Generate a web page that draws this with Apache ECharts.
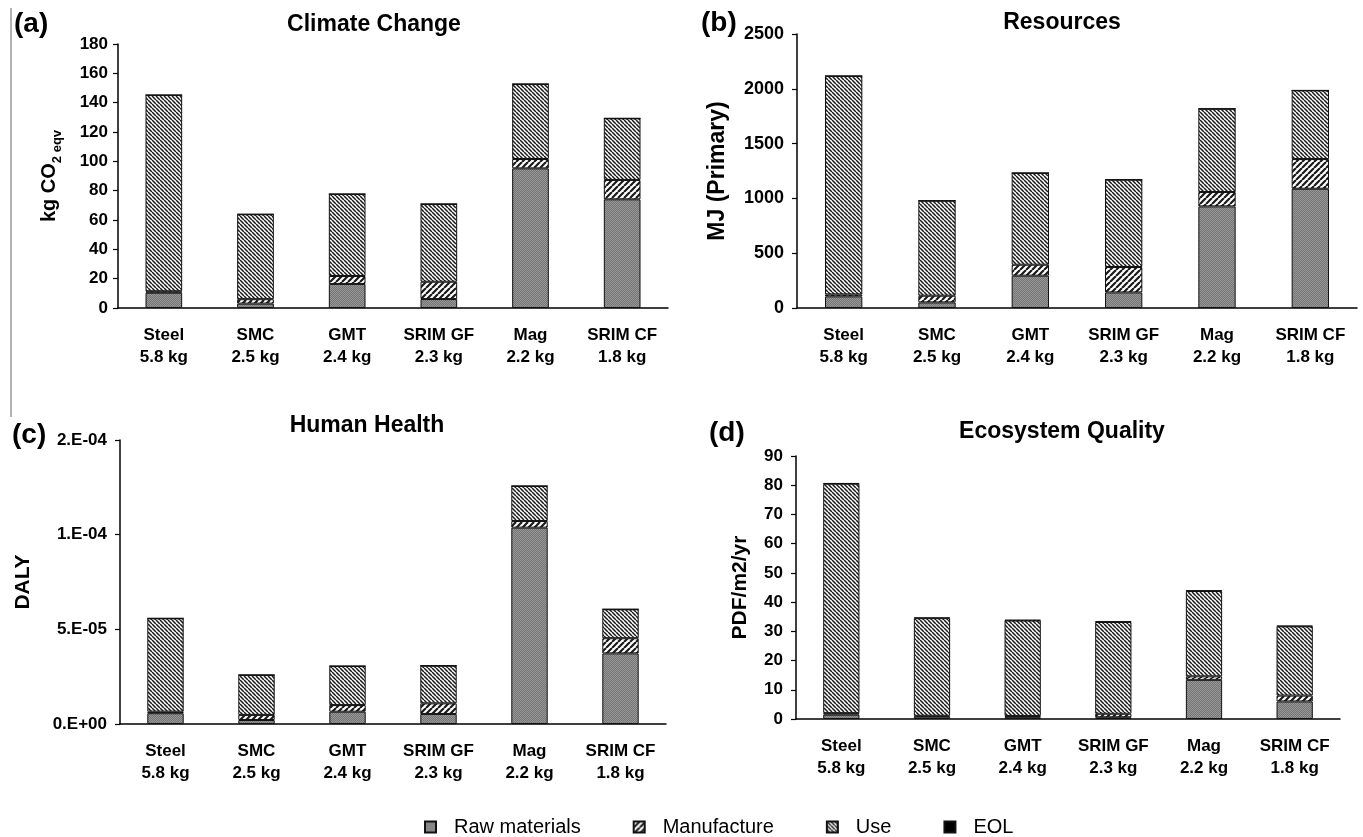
<!DOCTYPE html>
<html><head><meta charset="utf-8">
<script src="https://cdn.jsdelivr.net/npm/echarts@6/dist/echarts.min.js"></script>
<style>html,body{margin:0;padding:0;background:#fff}#c{width:1363px;height:837px}</style>
</head><body><div id="c"></div>
<script>
// ---------- data ----------
const materials = ['Steel', 'SMC', 'GMT', 'SRIM GF', 'Mag', 'SRIM CF'];
const masses = ['5.8 kg', '2.5 kg', '2.4 kg', '2.3 kg', '2.2 kg', '1.8 kg'];
const components = ['Raw materials', 'Manufacture', 'Use', 'EOL'];

// (a) Climate Change, kg CO2 eqv
const ccRaw   = [10.4, 3.0, 16.4, 6.1, 95.2, 74.1];
const ccManuf = [1.0, 3.0, 5.4, 11.8, 6.4, 13.2];
const ccUse   = [133.8, 57.9, 55.9, 53.0, 51.1, 42.0];
const ccEol   = [0, 0, 0, 0, 0, 0];

// (b) Resources, MJ (Primary)
const resRaw   = [106, 51, 295, 142, 927, 1088];
const resManuf = [18, 61, 100, 232, 131, 271];
const resUse   = [1993, 867, 837, 797, 760, 626];
const resEol   = [0, 0, 0, 0, 0, 0];

// (c) Human Health, DALY
const hhRaw   = [0.57e-5, 0.21e-5, 0.65e-5, 0.53e-5, 10.37e-5, 3.73e-5];
const hhManuf = [0.08e-5, 0.27e-5, 0.35e-5, 0.56e-5, 0.35e-5, 0.80e-5];
const hhUse   = [4.93e-5, 2.11e-5, 2.06e-5, 1.99e-5, 1.85e-5, 1.53e-5];
const hhEol   = [0, 0, 0, 0, 0, 0];
const hhTickLabels = ['0.E+00', '5.E-05', '1.E-04', '2.E-04'];

// (d) Ecosystem Quality, PDF/m2/yr
const eqRaw   = [1.5, 0.8, 0.6, 0.6, 13.4, 6.0];
const eqManuf = [0.5, 0.3, 0.4, 1.2, 1.2, 2.0];
const eqUse   = [78.5, 33.4, 32.7, 31.4, 29.2, 23.7];
const eqEol   = [0.2, 0.2, 0.2, 0.2, 0.2, 0.2];

// ---------- patterns ----------
function hatch(dir, size, lw, col) {
  const c = document.createElement('canvas');
  c.width = c.height = size;
  const g = c.getContext('2d');
  g.fillStyle = '#fff'; g.fillRect(0, 0, size, size);
  g.strokeStyle = col; g.lineWidth = lw; g.beginPath();
  for (const k of [-size, 0, size]) {
    if (dir === 'back') { g.moveTo(k, 0); g.lineTo(k + size, size); }
    else { g.moveTo(k, size); g.lineTo(k + size, 0); }
  }
  g.stroke();
  return { image: c, repeat: 'repeat' };
}
function dense() {
  const c = document.createElement('canvas');
  c.width = c.height = 2;
  const g = c.getContext('2d');
  g.fillStyle = '#747474'; g.fillRect(0, 0, 2, 2);
  g.fillStyle = '#989898'; g.fillRect(0, 0, 1, 1); g.fillRect(1, 1, 1, 1);
  return { image: c, repeat: 'repeat' };
}
const fills = [dense(), hatch('fwd', 6, 2.2, '#1a1a1a'), hatch('back', 4, 1.5, '#1a1a1a'), '#000'];

const FONT = 'Liberation Sans, Arial, sans-serif';
const panels = [
  { title: 'Climate Change', tx: 369, ty: 8, letter: '(a)', lx: 9, ly: 5,
    grid: { left: 118, top: 44, width: 550, height: 264 },
    y: { min: 0, max: 180, interval: 20 }, tickSize: 17, tickMargin: 10,
    data: [ccRaw, ccManuf, ccUse, ccEol] },
  { title: 'Resources', tx: 1057, ty: 6, letter: '(b)', lx: 696, ly: 4,
    grid: { left: 797, top: 34, width: 560, height: 274 },
    y: { min: 0, max: 2500, interval: 500 }, tickSize: 18, tickMargin: 13,
    data: [resRaw, resManuf, resUse, resEol] },
  { title: 'Human Health', tx: 362, ty: 409, letter: '(c)', lx: 7, ly: 416,
    grid: { left: 120, top: 440, width: 546, height: 284 },
    y: { min: 0, max: 1.5e-4, interval: 5e-5 }, tickSize: 17, tickMargin: 13,
    data: [hhRaw, hhManuf, hhUse, hhEol] },
  { title: 'Ecosystem Quality', tx: 1057, ty: 415, letter: '(d)', lx: 704, ly: 414,
    grid: { left: 796, top: 456, width: 544, height: 263 },
    y: { min: 0, max: 90, interval: 10 }, tickSize: 17, tickMargin: 13,
    data: [eqRaw, eqManuf, eqUse, eqEol] }
];
const yNames = [
  { name: '{m|kg CO}{s|2 eqv}', gap: 54, rich: { m: { fontSize: 20, fontWeight: 'bold', fontFamily: FONT, color: '#000', lineHeight: 25, verticalAlign: 'top' }, s: { fontSize: 13, fontWeight: 'bold', fontFamily: FONT, color: '#000', lineHeight: 25, verticalAlign: 'bottom' } } },
  { name: 'MJ (Primary)', gap: 68, size: 23 },
  { name: 'DALY', gap: 86, size: 21 },
  { name: 'PDF/m2/yr', gap: 45, size: 21 }
];

const option = {
  animation: false,
  backgroundColor: '#fff',
  title: [],
  grid: [], xAxis: [], yAxis: [], series: [],
  legend: {
    data: components, left: 419, top: 812, itemWidth: 11, itemHeight: 11, itemGap: 52,
    textStyle: { fontFamily: FONT, fontSize: 20, color: '#000', padding: [0, 0, 10, 13] },
    icon: 'rect'
  },
  graphic: [{ type: 'line', shape: { x1: 11, y1: 8, x2: 11, y2: 417 }, style: { stroke: '#666', lineWidth: 1 } }]
};

panels.forEach((p, i) => {
  option.title.push({ text: p.title, left: p.tx, top: p.ty, textAlign: 'center',
    textStyle: { fontFamily: FONT, fontSize: 23, fontWeight: 'bold', color: '#000' } });
  option.title.push({ text: p.letter, left: p.lx, top: p.ly,
    textStyle: { fontFamily: FONT, fontSize: 28, fontWeight: 'bold', color: '#000' } });
  option.grid.push(p.grid);
  option.xAxis.push({
    type: 'category', gridIndex: i, data: materials,
    axisLine: { lineStyle: { color: '#000', width: 1.5 } },
    axisTick: { length: 6, lineStyle: { color: '#000', width: 1.2 } },
    axisLabel: { interval: 0, margin: 16, fontFamily: FONT, fontSize: 17, fontWeight: 'bold', color: '#000', lineHeight: 22,
      formatter: (v, idx) => v + '\n' + masses[idx] }
  });
  const yn = yNames[i];
  option.yAxis.push({
    type: 'value', gridIndex: i, min: p.y.min, max: p.y.max, interval: p.y.interval,
    name: yn.name, nameLocation: 'middle', nameRotate: 90, nameGap: yn.gap,
    nameTextStyle: yn.rich ? { rich: yn.rich } : { fontFamily: FONT, fontSize: yn.size, fontWeight: 'bold', color: '#000' },
    splitLine: { show: false },
    axisLine: { show: true, lineStyle: { color: '#000', width: 1.5 } },
    axisTick: { show: true, length: 5, lineStyle: { color: '#000', width: 1.2 } },
    axisLabel: { margin: p.tickMargin, fontFamily: FONT, fontSize: p.tickSize, fontWeight: 'bold', color: '#000',
      formatter: i === 2 ? ((v) => hhTickLabels[Math.round(v / p.y.interval)]) : ((v) => String(v)) }
  });
  p.data.forEach((arr, k) => {
    option.series.push({
      type: 'bar', name: components[k], stack: 'p' + i, xAxisIndex: i, yAxisIndex: i,
      data: arr, barWidth: '40%',
      itemStyle: { color: fills[k], borderColor: '#111', borderWidth: 1 }
    });
  });
});

const chart = echarts.init(document.getElementById('c'), null, { renderer: 'canvas' });
chart.setOption(option);
</script></body></html>
